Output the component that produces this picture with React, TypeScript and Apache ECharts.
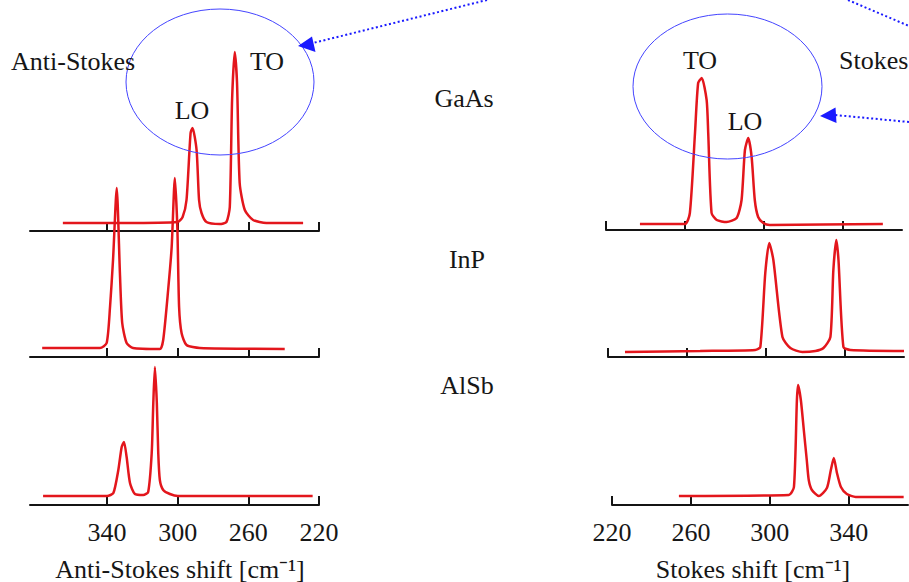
import React, { useEffect, useRef } from "react";
import * as echarts from "echarts";

// ---- data (Raman shift in cm^-1, intensity in arbitrary units) ----
const tickValues = [220, 260, 300, 340];
const materials = ["GaAs", "InP", "AlSb"];

const gaasAntiShift = [365, 330, 300, 297.2, 295.0, 292.7, 291.6, 289.3, 287.9, 286.5, 283.7, 276.2, 272.4, 270.5, 269.2, 267.7, 266.4, 264.9, 262.0, 257.3, 249.8, 229];
const gaasAntiInt = [8, 8, 9, 14, 31, 98, 103, 81, 31, 18, 9, 7, 9, 24, 131, 179, 148, 48, 21, 11, 8, 8];

const inpAntiShift = [376.7, 344.0, 340.2, 338.3, 336.6, 334.5, 332.7, 331.4, 328.9, 325.3, 310.1, 308.2, 305.4, 303.4, 301.6, 300.2, 299.2, 297.8, 295.0, 287.5, 239.4];
const inpAntiInt = [9, 9, 14, 50, 97, 169, 84, 34, 14, 9, 8, 17, 67, 110, 179, 130, 50, 24, 12, 9, 8];

const alsbAntiShift = [376.2, 340, 336.4, 333.6, 331.7, 330.4, 328.9, 327.0, 324.2, 319.5, 316.7, 314.7, 313.8, 312.9, 311.8, 311.0, 310.1, 308.2, 304.4, 299.9, 223.6];
const alsbAntiInt = [9, 9, 12, 35, 58, 63, 48, 22, 11, 10, 13, 52, 102, 138, 102, 52, 25, 15, 11, 9, 9];

const gaasStokesShift = [237.2, 260.0, 262.5, 265.1, 266.7, 268.5, 271.0, 271.8, 273.5, 276.1, 281.1, 286.2, 288.7, 290.4, 292.1, 293.8, 295.4, 297.1, 299.7, 303.0, 360.3];
const gaasStokesInt = [6, 6, 17, 97, 147, 152, 130, 97, 17, 10, 8, 12, 30, 80, 92, 73, 30, 13, 7, 5, 6];

const inpStokesShift = [228.6, 266.7, 294.6, 297.2, 299.7, 301.7, 303.8, 308.4, 312.4, 318.5, 325.1, 329.2, 332.7, 334.2, 335.7, 336.8, 339.3, 342.8, 370];
const inpStokesInt = [5, 6, 7, 10, 84, 114, 97, 20, 9, 5, 6, 9, 20, 87, 117, 97, 10, 7, 6];

const alsbStokesShift = [253.9, 309.6, 312.2, 313.7, 314.3, 315.7, 317.2, 318.7, 319.7, 321.3, 324.8, 328.9, 330.9, 332.4, 334.0, 336.0, 339.0, 343.5, 367.8];
const alsbStokesInt = [9, 10, 18, 105, 120, 105, 75, 45, 25, 15, 9, 17, 35, 47, 32, 18, 11, 8, 8];

const antiStokesTitle = "Anti-Stokes";
const stokesTitle = "Stokes";
const antiStokesAxisName = "Anti-Stokes shift [cm⁻¹]";
const stokesAxisName = "Stokes shift [cm⁻¹]";

const FONT = "'Liberation Serif', 'Times New Roman', serif";
const TEXT = "#161616";
const AXIS = "#141414";
const RED = "#e3161c";
const BLUE = "#1a1aff";

const zip = (xs: number[], ys: number[]) => xs.map((x, i) => [x, ys[i]]);

export default function App() {
  const ref = useRef<HTMLDivElement>(null);
  useEffect(() => {
    if (!ref.current) return;
    const chart = echarts.init(ref.current, null, { renderer: "svg" });

    const spectra = [
      zip(gaasAntiShift, gaasAntiInt),
      zip(inpAntiShift, inpAntiInt),
      zip(alsbAntiShift, alsbAntiInt),
      zip(gaasStokesShift, gaasStokesInt),
      zip(inpStokesShift, inpStokesInt),
      zip(alsbStokesShift, alsbStokesInt),
    ];

    const grids = [
      { left: 30, top: 131, width: 289, height: 100 },
      { left: 30, top: 257, width: 289, height: 100 },
      { left: 30, top: 405, width: 289, height: 100 },
      { left: 606, top: 130, width: 296, height: 100 },
      { left: 608, top: 257, width: 296, height: 100 },
      { left: 612, top: 405, width: 296, height: 100 },
    ];

    const xAxes = grids.map((_, i) => {
      const anti = i < 3;
      const bottom = i === 2 || i === 5;
      return {
        type: "value",
        gridIndex: i,
        min: 220,
        max: anti ? 383.6 : 370,
        inverse: anti,
        axisLine: { show: true, lineStyle: { color: AXIS, width: 2 } },
        axisTick: {
          show: true,
          inside: true,
          length: 9,
          customValues: tickValues,
          lineStyle: { color: AXIS, width: 2 },
        },
        axisLabel: {
          show: bottom,
          customValues: tickValues,
          showMinLabel: true,
          showMaxLabel: true,
          fontFamily: FONT,
          fontSize: 26,
          color: TEXT,
          margin: 14,
        },
        splitLine: { show: false },
      };
    });

    const yAxes = grids.map((_, i) => ({
      type: "value",
      gridIndex: i,
      min: 0,
      max: 100,
      show: false,
    }));

    const series = spectra.map((data, i) => ({
      type: "line",
      name: materials[i % 3] + (i < 3 ? " anti-Stokes" : " Stokes"),
      xAxisIndex: i,
      yAxisIndex: i,
      data,
      symbol: "none",
      smooth: 0.22,
      clip: false,
      lineStyle: { color: RED, width: 2.5 },
      z: 3,
    }));

    const txt = (text: string, x: number, y: number, align = "center", size = 26) => ({
      type: "text",
      x,
      y,
      z: 10,
      style: {
        text,
        fill: TEXT,
        font: `${size}px ${FONT}`,
        textAlign: align,
        textVerticalAlign: "middle",
      },
    });

    const dotted = (x1: number, y1: number, x2: number, y2: number) => ({
      type: "line",
      z: 10,
      shape: { x1, y1, x2, y2 },
      style: { stroke: BLUE, lineWidth: 2, lineDash: [2, 2.5] },
    });

    const graphic = [
      txt(antiStokesTitle, 11, 61, "left"),
      txt("TO", 267, 61),
      txt("LO", 192, 110),
      txt(materials[0], 464, 98),
      txt("TO", 700, 60),
      txt("LO", 745, 121),
      txt(stokesTitle, 839, 60, "left"),
      txt(materials[1], 467, 259),
      txt(materials[2], 467, 385),
      txt(antiStokesAxisName, 180, 569),
      txt(stokesAxisName, 753, 569),
      {
        type: "ellipse",
        z: 9,
        shape: { cx: 220, cy: 82, rx: 94, ry: 73 },
        style: { fill: "none", stroke: "#4444ff", lineWidth: 1 },
      },
      {
        type: "ellipse",
        z: 9,
        shape: { cx: 727.5, cy: 86.5, rx: 94.5, ry: 72.5 },
        style: { fill: "none", stroke: "#4444ff", lineWidth: 1 },
      },
      dotted(487, 0, 313, 43),
      {
        type: "polygon",
        z: 10,
        shape: { points: [[298, 46], [312, 36.5], [315.5, 52]] },
        style: { fill: BLUE },
      },
      dotted(848, 0, 909, 26),
      dotted(909, 122, 835, 115),
      {
        type: "polygon",
        z: 10,
        shape: { points: [[820, 116], [835.5, 107.5], [836.5, 123]] },
        style: { fill: BLUE },
      },
    ];

    chart.setOption({
      animation: false,
      backgroundColor: "#ffffff",
      grid: grids,
      xAxis: xAxes,
      yAxis: yAxes,
      series,
      graphic,
    } as any);

    return () => chart.dispose();
  }, []);

  return (
    <div
      ref={ref}
      style={{ position: "absolute", left: 0, top: 0, width: 909, height: 582 }}
    />
  );
}
